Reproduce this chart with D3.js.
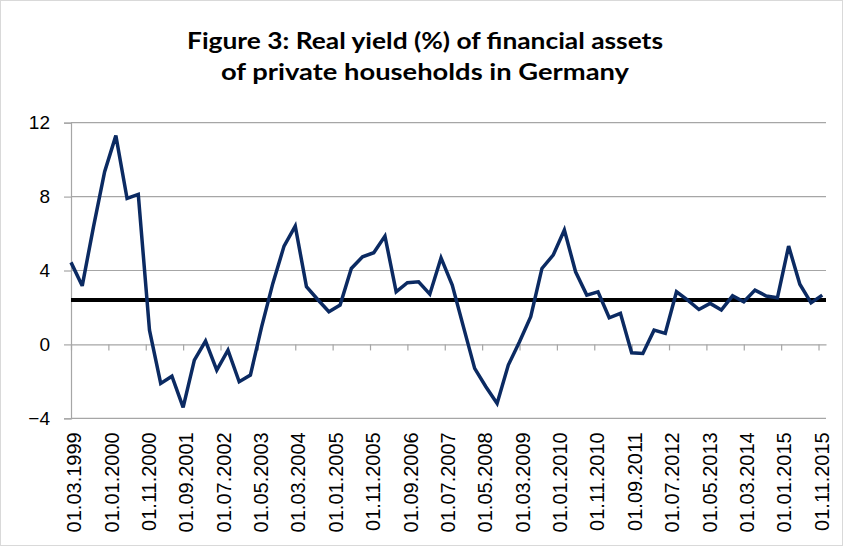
<!DOCTYPE html>
<html>
<head>
<meta charset="utf-8">
<script src="https://cdn.jsdelivr.net/npm/d3@7"></script>
<style>
  html, body { margin: 0; padding: 0; background: #fff; }
  svg { display: block; }
</style>
</head>
<body>
<svg id="chart" width="843" height="546"></svg>
<script>
// ---- DATA ----
const titleLines = ["Figure 3: Real yield (%) of financial assets", "of private households in Germany"];
// quarterly observations, first = 01.03.1999, step 3 months
const startLabel = "01.03.1999";
const monthStep = 3;
const yieldValues = [
  4.44, 3.17, 6.35, 9.35, 11.3, 7.9, 8.12, 0.77, -2.11, -1.72,
  -3.41, -0.85, 0.18, -1.39, -0.31, -2.02, -1.66, 0.95, 3.30, 5.32,
  6.40, 3.12, 2.43, 1.77, 2.13, 4.11, 4.74, 4.96, 5.86, 2.85,
  3.34, 3.39, 2.72, 4.68, 3.21, 0.95, -1.30, -2.29, -3.20, -1.12,
  0.14, 1.50, 4.11, 4.83, 6.19, 3.93, 2.67, 2.85, 1.44, 1.68,
  -0.45, -0.49, 0.77, 0.60, 2.85, 2.40, 1.89, 2.22, 1.86, 2.63,
  2.31, 2.94, 2.62, 2.52, 5.32, 3.26, 2.25, 2.67
];
const averageValue = 2.4;
const xTickMonths = [0,10,20,30,40,50,60,70,80,90,100,110,120,130,140,150,160,170,180,190,200];
const xTickLabels = ["01.03.1999","01.01.2000","01.11.2000","01.09.2001","01.07.2002","01.05.2003",
  "01.03.2004","01.01.2005","01.11.2005","01.09.2006","01.07.2007","01.05.2008","01.03.2009",
  "01.01.2010","01.11.2010","01.09.2011","01.07.2012","01.05.2013","01.03.2014","01.01.2015","01.11.2015"];
const yTicks = [-4, 0, 4, 8, 12];

// ---- CHART ----
const svg = d3.select("#chart");
const W = 843, H = 546;
const plot = {left: 71, right: 826, top: 122.7, bottom: 418.3};

svg.append("rect").attr("x", 0.5).attr("y", 0.5).attr("width", W - 1).attr("height", H - 1)
  .attr("fill", "#fff").attr("stroke", "#d9d9d9");

const x = d3.scaleLinear().domain([0, 202]).range([plot.left, plot.right]);
const y = d3.scaleLinear().domain([-4, 12]).range([plot.bottom, plot.top]);

// title
const titleY = [49, 80];
const titleLen = [476, 408];
titleLines.forEach((t, i) => {
  svg.append("text")
    .attr("x", 425).attr("y", titleY[i])
    .attr("text-anchor", "middle")
    .attr("font-family", "Lato, 'Open Sans', sans-serif")
    .attr("font-weight", "bold")
    .attr("font-size", 23)
    .attr("textLength", titleLen[i])
    .attr("lengthAdjust", "spacingAndGlyphs")
    .attr("fill", "#000")
    .text(t);
});

// gridlines
svg.append("g")
  .selectAll("line").data(yTicks.filter(v => v !== 0)).join("line")
  .attr("x1", plot.left).attr("x2", plot.right)
  .attr("y1", d => y(d)).attr("y2", d => y(d))
  .attr("stroke", "#a6a6a6").attr("stroke-width", 1.2);

// y axis
const yAxis = d3.axisLeft(y).tickValues(yTicks).tickSize(7).tickPadding(14).tickFormat(d3.format("d"));
const gy = svg.append("g").attr("transform", `translate(${plot.left},0)`).call(yAxis);
gy.select(".domain").attr("stroke", "#a6a6a6").attr("stroke-width", 1.2);
gy.selectAll(".tick line").attr("stroke", "#a6a6a6").attr("stroke-width", 1.2);
gy.selectAll(".tick text")
  .attr("font-family", "'Liberation Sans', Arial, sans-serif")
  .attr("font-size", 19).attr("fill", "#000");

// x axis at y = 0 with tick marks
const xAxis = d3.axisBottom(x).tickValues(xTickMonths).tickSize(6).tickSizeOuter(0).tickFormat("");
const gx = svg.append("g").attr("transform", `translate(0,${y(0)})`).call(xAxis);
gx.select(".domain").attr("stroke", "#a6a6a6").attr("stroke-width", 1.2);
gx.selectAll(".tick line").attr("stroke", "#a6a6a6").attr("stroke-width", 1.2);

// x labels at the bottom (low position), rotated
svg.append("g")
  .selectAll("text").data(xTickMonths).join("text")
  .attr("transform", (d) => `translate(${x(d) + 3},${plot.bottom + 14}) rotate(-90)`)
  .attr("text-anchor", "end")
  .attr("dy", "0.36em")
  .attr("font-family", "'Liberation Sans', Arial, sans-serif")
  .attr("font-size", 20)
  .attr("fill", "#000")
  .text((d, i) => xTickLabels[i]);

// average line
svg.append("line")
  .attr("x1", x(0)).attr("x2", x(202))
  .attr("y1", y(averageValue)).attr("y2", y(averageValue))
  .attr("stroke", "#000").attr("stroke-width", 4);

// series line
const line = d3.line()
  .x((d, i) => x(i * monthStep))
  .y(d => y(d));
svg.append("path")
  .datum(yieldValues)
  .attr("d", line)
  .attr("fill", "none")
  .attr("stroke", "#0b2a62")
  .attr("stroke-width", 3.5)
  .attr("stroke-linejoin", "miter")
  .attr("stroke-miterlimit", 3);
</script>
</body>
</html>
